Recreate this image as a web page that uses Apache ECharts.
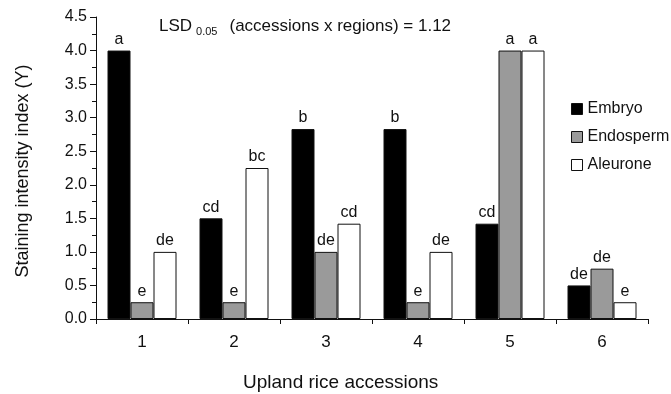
<!DOCTYPE html>
<html><head><meta charset="utf-8">
<script src="https://cdn.jsdelivr.net/npm/echarts@6/dist/echarts.min.js"></script>
<style>html,body{margin:0;padding:0;background:#fff}#c{width:671px;height:394px}</style>
</head><body><div id="c"></div>
<script>
const categories = ['1','2','3','4','5','6'];
const embryo = [4.0, 1.5, 2.83, 2.83, 1.42, 0.5];
const endosperm = [0.25, 0.25, 1.0, 0.25, 4.0, 0.75];
const aleurone = [1.0, 2.25, 1.42, 1.0, 4.0, 0.25];
const embryoLetters = ['a','cd','b','b','cd','de'];
const endospermLetters = ['e','e','de','e','a','de'];
const aleuroneLetters = ['de','bc','cd','de','a','e'];
const yTicks = [0, 0.5, 1.0, 1.5, 2.0, 2.5, 3.0, 3.5, 4.0, 4.5];

const font = 'Liberation Sans, Arial, sans-serif';
function mk(name, data, letters, color) {
  return {
    name, type: 'bar', data, barWidth: 23, barGap: '0%',
    itemStyle: { color, borderColor: '#111', borderWidth: 1 },
    label: { show: true, position: 'top', distance: 3, fontFamily: font, fontSize: 16, color: '#111',
      formatter: p => letters[p.dataIndex] }
  };
}
const chart = echarts.init(document.getElementById('c'));
chart.setOption({
  animation: false,
  textStyle: { fontFamily: font },
  grid: { left: 96, right: 23, top: 17, bottom: 75 },
  legend: {
    orient: 'vertical', left: 566, top: 96, padding: 5, itemWidth: 11, itemHeight: 11, itemGap: 12,
    icon: 'rect', textStyle: { fontFamily: font, fontSize: 16, color: '#111' },
    itemStyle: { borderColor: '#111', borderWidth: 1 },
    data: ['Embryo','Endosperm','Aleurone']
  },
  xAxis: {
    type: 'category', data: categories,
    axisLine: { lineStyle: { color: '#111', width: 1 } },
    axisTick: { show: true, length: 5, lineStyle: { color: '#111' } },
    axisLabel: { fontSize: 17, color: '#111', margin: 15, fontFamily: font }
  },
  yAxis: {
    type: 'value', min: 0, max: 4.5, interval: 0.5,
    axisLine: { show: true, lineStyle: { color: '#111', width: 1 } },
    axisTick: { show: true, length: 6, lineStyle: { color: '#111' } },
    minorTick: { show: true, splitNumber: 2, length: 4, lineStyle: { color: '#111' } },
    splitLine: { show: false },
    axisLabel: { fontSize: 16, color: '#111', margin: 9, fontFamily: font,
      formatter: v => { const t = yTicks.find(x => Math.abs(x - v) < 1e-6); return (t === undefined ? v : t).toFixed(1); } }
  },
  graphic: [
    { type: 'text', left: 159, top: 18, style: {
      rich: {
        m: { fontSize: 17, fontFamily: font, fill: '#111' },
        s: { fontSize: 11, fontFamily: font, fill: '#111', verticalAlign: 'bottom', padding: [10, 12, 0, 4] }
      },
      text: '{m|LSD}{s|0.05}{m|(accessions x regions) = 1.12}'
    }},
    { type: 'text', left: 243, top: 373, style: { text: 'Upland rice accessions', fontSize: 19, fontFamily: font, fill: '#111' } },
    { type: 'text', x: 14, y: 171, rotation: Math.PI / 2, style: { text: 'Staining intensity index (Y)', fontSize: 18, fontFamily: font, fill: '#111', align: 'center', verticalAlign: 'top' } }
  ],
  series: [
    mk('Embryo', embryo, embryoLetters, '#000'),
    mk('Endosperm', endosperm, endospermLetters, '#9a9a9a'),
    mk('Aleurone', aleurone, aleuroneLetters, '#fff')
  ]
});
</script></body></html>
